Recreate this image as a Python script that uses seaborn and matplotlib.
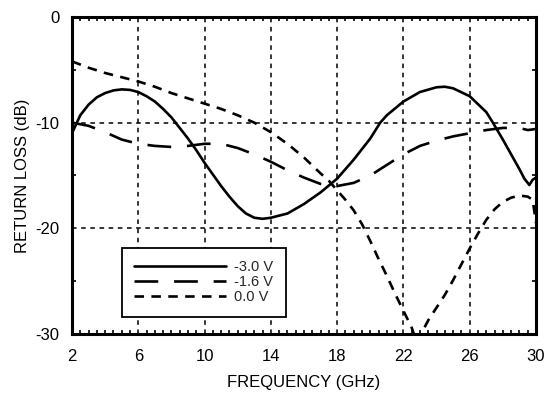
import numpy as np
import pandas as pd
import matplotlib
matplotlib.use("Agg")
import matplotlib.pyplot as plt
import seaborn as sns
from matplotlib.ticker import MultipleLocator

# ---- data ----
f_m30 = [2, 2.5, 3, 3.5, 4, 4.5, 5, 5.5, 6, 6.5, 7, 7.5, 8, 8.5, 9, 9.5, 10, 10.5, 11, 11.5,
         12, 12.5, 13, 13.5, 14, 15, 16, 17, 18, 19, 20, 20.6, 21, 22, 23, 24, 24.5, 25, 26,
         27, 27.4, 28, 28.5, 29, 29.3, 29.6, 29.8, 30]
rl_m30 = [-11.0, -9.3, -8.3, -7.6, -7.2, -6.95, -6.85, -6.9, -7.1, -7.5, -8.0, -8.7, -9.5, -10.5,
          -11.5, -12.6, -13.8, -14.9, -16.0, -17.0, -17.9, -18.6, -19.0, -19.1, -19.0, -18.6,
          -17.7, -16.6, -15.3, -13.5, -11.5, -10.0, -9.3, -8.0, -7.1, -6.65, -6.6, -6.75, -7.5,
          -9.0, -10.0, -11.6, -13.0, -14.4, -15.3, -15.9, -15.4, -15.2]

f_m16 = [2, 3, 4, 5, 6, 7, 8, 9, 10, 11, 12, 13, 14, 15, 16, 17, 18, 19, 20, 21, 22, 23, 24,
         25, 26, 27, 28, 29, 29.5, 30]
rl_m16 = [-10.0, -10.3, -10.9, -11.6, -12.0, -12.2, -12.3, -12.2, -12.0, -12.0, -12.4, -13.0,
          -13.7, -14.5, -15.2, -15.8, -16.0, -15.7, -15.0, -14.0, -13.0, -12.2, -11.7, -11.3,
          -11.0, -10.7, -10.5, -10.5, -10.7, -10.6]

f_00 = [2, 3, 4, 5, 6, 7, 8, 9, 10, 11, 12, 13, 14, 15, 16, 17, 17.5, 18, 18.5, 19, 19.5, 20,
        20.5, 21, 21.5, 22, 22.5, 22.8, 23.1, 23.5, 24, 24.5, 25, 25.5, 26, 26.5, 27, 27.5, 28,
        28.5, 29, 29.5, 29.8, 30]
rl_00 = [-4.2, -4.8, -5.3, -5.7, -6.1, -6.6, -7.2, -7.7, -8.2, -8.7, -9.3, -10.0, -10.9, -12.0,
         -13.3, -14.8, -15.5, -16.4, -17.3, -18.3, -19.6, -21.2, -22.9, -24.5, -26.2, -27.8,
         -29.4, -30.8, -29.9, -28.7, -27.5, -26.3, -24.9, -23.4, -21.9, -20.5, -19.2, -18.2,
         -17.5, -17.1, -16.9, -17.0, -17.3, -19.5]

labels = ["-3.0 V", "-1.6 V", "0.0 V"]
x_ticks = [2, 6, 10, 14, 18, 22, 26, 30]
y_ticks = [0, -10, -20, -30]

# ---- plot ----
sns.set_theme(style="ticks")
plt.rcParams["font.family"] = ["Liberation Sans", "DejaVu Sans"]

fig = plt.figure(figsize=(5.52, 3.96), dpi=100)
ax = fig.add_axes([0.1304, 0.1566, 0.8406, 0.8005])

styles = ["-", (0, (9, 6)), (0, (3.6, 2.8))]
series = [(f_m30, rl_m30), (f_m16, rl_m16), (f_00, rl_00)]
for (fx, ry), lab, ls in zip(series, labels, styles):
    df = pd.DataFrame({"f": fx, "rl": ry})
    sns.lineplot(data=df, x="f", y="rl", ax=ax, color="black", lw=1.9,
                 linestyle=ls, label=lab, sort=False)

ax.set_xlim(2, 30)
ax.set_ylim(-30, 0)
ax.set_xticks(x_ticks)
ax.set_yticks(y_ticks)
ax.set_xticklabels([str(v) for v in x_ticks])
ax.set_yticklabels([str(v) for v in y_ticks])
ax.xaxis.set_minor_locator(MultipleLocator(0.5))
ax.yaxis.set_minor_locator(MultipleLocator(5))

ax.grid(True, which="major", color="black", linestyle=(0, (3, 3)), lw=1.1)
for s in ax.spines.values():
    s.set_linewidth(2.2)
    s.set_color("black")
    s.set_visible(True)

ax.tick_params(which="both", direction="in", top=True, right=True, colors="black")
ax.tick_params(which="major", length=0, labelsize=12)
ax.tick_params(axis="x", which="major", pad=11)
ax.tick_params(axis="y", which="major", pad=9)
ax.tick_params(which="minor", length=3, width=1.2)

ax.set_xlabel("FREQUENCY (GHz)", fontsize=12, labelpad=8, color="black")
ax.set_ylabel("RETURN LOSS (dB)", fontsize=12, labelpad=4, color="black")

leg = ax.legend(loc="lower left", bbox_to_anchor=(0.108, 0.054), fontsize=10.5,
                handlelength=6.3, handletextpad=0.55, labelspacing=0.08, borderpad=0.85,
                fancybox=False, frameon=True, borderaxespad=0)
leg.get_frame().set_edgecolor("black")
leg.get_frame().set_linewidth(1.3)
leg.get_frame().set_facecolor("white")
leg.get_frame().set_alpha(1)

fig.savefig("out.png", dpi=100)
